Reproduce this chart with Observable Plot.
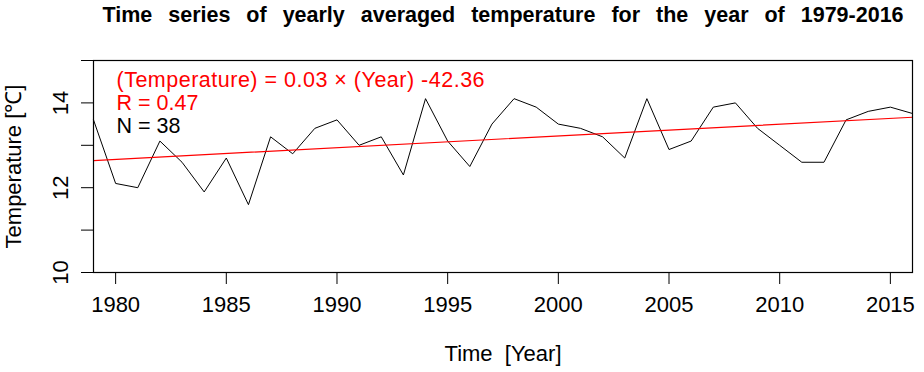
<!DOCTYPE html>
<html>
<head>
<meta charset="utf-8">
<script src="https://cdn.jsdelivr.net/npm/d3@7"></script>
<script src="https://cdn.jsdelivr.net/npm/@observablehq/plot@0.6"></script>
<style>
  html, body { margin: 0; padding: 0; background: #fff; }
  svg { font-family: "Liberation Sans", Arial, sans-serif; }
</style>
</head>
<body>
<div id="chart"></div>
<script>
const years = d3.range(1979, 2017);
const temps = [13.6, 12.1, 12.0, 13.1, 12.6, 11.9, 12.7, 11.6, 13.2, 12.8,
               13.4, 13.6, 13.0, 13.2, 12.3, 14.1, 13.1, 12.5, 13.5, 14.1,
               13.9, 13.5, 13.4, 13.2, 12.7, 14.1, 12.9, 13.1, 13.9, 14.0,
               13.4, 13.0, 12.6, 12.6, 13.6, 13.8, 13.9, 13.75];
const xTicks = [1980, 1985, 1990, 1995, 2000, 2005, 2010, 2015];
const yTicks = [10, 11, 12, 13, 14, 15];
const yLabels = [10, 12, 14];
const titleText = "Time series of yearly averaged temperature for the year of 1979-2016";
const xTitle = "Time  [Year]";
const yTitle = "Temperature [℃]";
const eqText = "(Temperature) = 0.03 × (Year) -42.36";
const rText = "R = 0.47";
const nText = "N = 38";

const data = years.map((y, i) => ({year: y, temp: temps[i]}));

const chart = Plot.plot({
  width: 924,
  height: 372,
  marginTop: 60,
  marginBottom: 100,
  marginLeft: 93,
  marginRight: 12,
  style: {fontFamily: "'Liberation Sans', Arial, sans-serif", background: "#fff", color: "#000"},
  x: {domain: [1979, 2016]},
  y: {domain: [10, 15]},
  marks: [
    Plot.axisX({ticks: xTicks, tickSize: 12, tickPadding: 12, tickFormat: d => String(d), fontSize: 22, label: null}),
    Plot.axisY({ticks: yTicks, tickSize: 12, tickFormat: () => "", label: null}),
    Plot.axisY({ticks: yLabels, tickSize: 0, tickRotate: -90, tickPadding: 26, tickFormat: d => String(d), fontSize: 22, label: null}),
    Plot.line(data, {x: "year", y: "temp", stroke: "#000", strokeWidth: 1}),
    Plot.linearRegressionY(data, {x: "year", y: "temp", stroke: "red", strokeWidth: 1.2, ci: 0}),
    Plot.frame({stroke: "#000", strokeWidth: 1.2}),
    Plot.text([titleText], {frameAnchor: "top", dy: -45, fontSize: 21.5, fontWeight: "bold", fill: "#000", lineAnchor: "middle", className: "ttl"}),
    Plot.text([xTitle], {frameAnchor: "bottom", dy: 81, fontSize: 22, fill: "#000", lineAnchor: "middle"}),
    Plot.text([yTitle], {frameAnchor: "left", dx: -80, rotate: -90, fontSize: 22, fill: "#000", textAnchor: "middle", lineAnchor: "middle"}),
    Plot.text([eqText], {frameAnchor: "top-left", dx: 23, dy: 20, fontSize: 21.5, fill: "red", textAnchor: "start", lineAnchor: "middle", className: "eq"}),
    Plot.text([rText], {frameAnchor: "top-left", dx: 23, dy: 43, fontSize: 21.5, fill: "red", textAnchor: "start", lineAnchor: "middle"}),
    Plot.text([nText], {frameAnchor: "top-left", dx: 23, dy: 66, fontSize: 21.5, fill: "#000", textAnchor: "start", lineAnchor: "middle"})
  ]
});
chart.querySelectorAll("text").forEach(t => t.setAttribute("xml:space", "preserve"));
chart.style.whiteSpace = "pre";
chart.querySelectorAll("g.ttl text").forEach(t => t.style.wordSpacing = "10px");
chart.querySelectorAll("g.eq text").forEach(t => t.style.letterSpacing = "0.5px");
document.getElementById("chart").appendChild(chart);
</script>
</body>
</html>
